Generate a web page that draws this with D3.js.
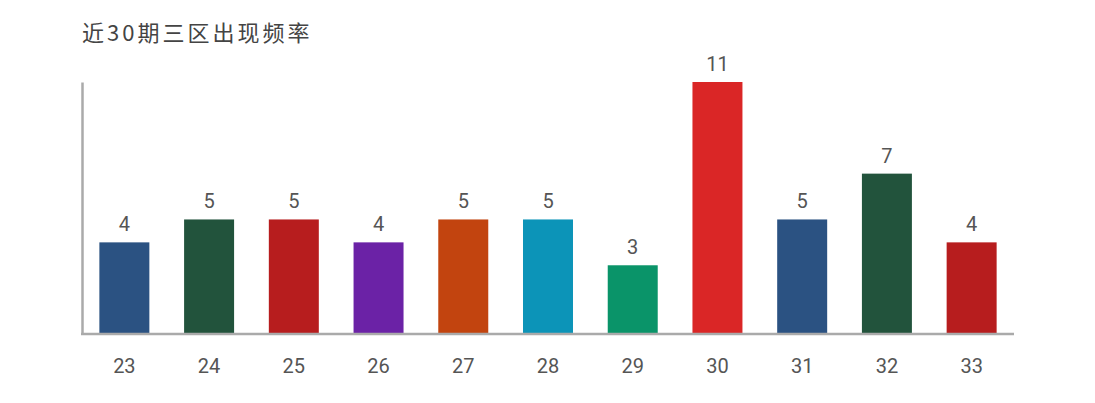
<!DOCTYPE html>
<html>
<head>
<meta charset="utf-8">
<script src="https://cdn.jsdelivr.net/npm/d3@7"></script>
<style>
  html, body { margin: 0; padding: 0; background: #fff; }
  svg { display: block; font-family: Roboto, "Noto Sans CJK SC", sans-serif; }
</style>
</head>
<body>
<svg id="chart" width="1095" height="403"></svg>
<script>
// Zone-three numbers and how often each appeared over the last 30 draws
const categories = ["23", "24", "25", "26", "27", "28", "29", "30", "31", "32", "33"];
const counts = [4, 5, 5, 4, 5, 5, 3, 11, 5, 7, 4];
const barColors = ["#2b5282", "#22533c", "#b71d1e", "#6b22a6", "#c2440f", "#0c94b8", "#0a9469", "#da2626", "#2b5282", "#22533c", "#b71d1e"];
const title = "近30期三区出现频率";

const svg = d3.select("#chart");
const margin = { left: 82, right: 81, top: 82, bottom: 69 };
const W = 1095, H = 403;

const x = d3.scaleBand()
  .domain(categories)
  .range([margin.left, W - margin.right])
  .paddingInner(0.41)
  .paddingOuter(0.205);

const y = d3.scaleLinear()
  .domain([0, d3.max(counts)])
  .range([H - margin.bottom, margin.top]);

svg.append("text")
  .attr("x", 82)
  .attr("y", 41)
  .attr("fill", "#444")
  .attr("font-size", 22)
  .attr("letter-spacing", 3)
  .attr("font-family", "'Noto Sans CJK SC', sans-serif")
  .text(title);

const data = categories.map((c, i) => ({ c, v: counts[i], color: barColors[i] }));

svg.selectAll("rect.bar")
  .data(data)
  .enter().append("rect")
  .attr("class", "bar")
  .attr("x", d => x(d.c))
  .attr("y", d => y(d.v))
  .attr("width", x.bandwidth())
  .attr("height", d => y(0) - y(d.v))
  .attr("fill", d => d.color);

svg.selectAll("text.val")
  .data(data)
  .enter().append("text")
  .attr("class", "val")
  .attr("x", d => x(d.c) + x.bandwidth() / 2)
  .attr("y", d => y(d.v) - 11)
  .attr("text-anchor", "middle")
  .attr("fill", "#555")
  .attr("font-size", 20)
  .text(d => d.v);

// x axis
const xAxis = svg.append("g")
  .attr("transform", `translate(0,${y(0)})`)
  .call(d3.axisBottom(x).tickSize(0).tickPadding(25));
xAxis.select(".domain").attr("stroke", "#aaa").attr("stroke-width", 2.5)
  .attr("d", `M${margin.left - 1},0H${W - margin.right}`);
xAxis.selectAll("text").attr("fill", "#555").attr("font-size", 20)
  .attr("font-family", "Roboto, sans-serif");

// y axis line only
const yAxis = svg.append("g")
  .attr("transform", `translate(${margin.left},0)`)
  .call(d3.axisLeft(y).tickValues([]).tickSize(0));
yAxis.select(".domain").attr("stroke", "#aaa").attr("stroke-width", 2.5);
</script>
</body>
</html>
